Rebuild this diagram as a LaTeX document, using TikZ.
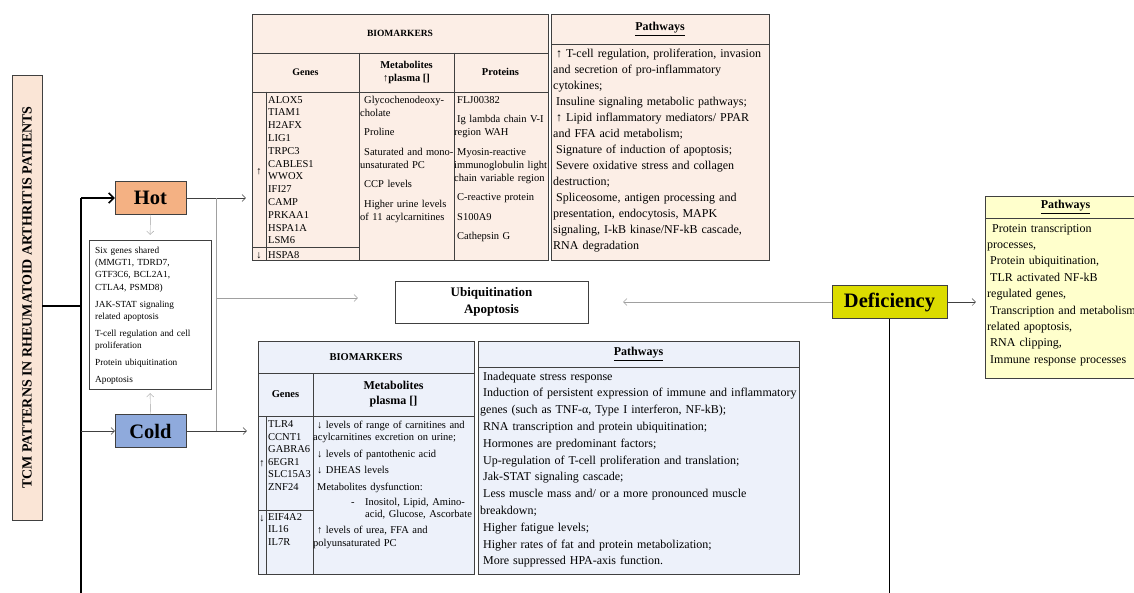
\documentclass[tikz,border=0pt]{standalone}
\usepackage{fontspec}
\setmainfont{Liberation Serif}
\usepackage{graphicx}
\usepackage{tikz}
\usetikzlibrary{calc,positioning,arrows.meta}

\definecolor{tcmfill}{HTML}{FAE5D6}
\definecolor{hotfill}{HTML}{F4B183}
\definecolor{coldfill}{HTML}{8FAADC}
\definecolor{defifill}{HTML}{DCDC00}
\definecolor{hottable}{HTML}{FCEEE6}
\definecolor{coldtable}{HTML}{EDF1FA}
\definecolor{defitable}{HTML}{FFFFCC}
\definecolor{edgegray}{HTML}{404040}
\definecolor{softgray}{HTML}{A0A0A0}

\tikzstyle{tcmbox}    = [rectangle, draw=edgegray, fill=tcmfill, minimum width=30pt, minimum height=445pt, inner sep=0pt, font=\fontsize{14}{16}\selectfont\bfseries]
\tikzstyle{syndrome}  = [rectangle, draw=edgegray, minimum width=71pt, minimum height=33pt, inner sep=0pt, font=\fontsize{20.5}{24}\selectfont\bfseries]
\tikzstyle{tblframe}  = [rectangle, draw=edgegray, inner sep=0pt]
\tikzstyle{tblhead}   = [inner sep=0pt, align=center, font=\fontsize{10}{13}\selectfont\bfseries]
\tikzstyle{cell}      = [anchor=base west, inner sep=0pt, text width=330pt, align=left]
\tikzstyle{bio}       = [cell, font=\fontsize{10.5}{13}\selectfont]
\tikzstyle{updown}    = [anchor=base, inner sep=0pt, font=\fontsize{10.5}{13}\selectfont]
\tikzstyle{pathtext}  = [cell, font=\fontsize{12}{16}\selectfont]
\tikzstyle{arrow}     = [->, >={Straight Barb[length=3.5pt,width=7pt]}, draw=edgegray]
\tikzstyle{softarrow} = [arrow, draw=softgray]

\begin{document}
\begin{tikzpicture}[x=1pt, y=-1pt]
\useasboundingbox (0,0) rectangle (1134,592);
\clip (0,0) rectangle (1134,592);

% patterns
\node[tcmbox] (tcm) at (27,297.5) {\rotatebox{90}{TCM PATTERNS IN RHEUMATOID ARTHRITIS PATIENTS}};
\node[syndrome, fill=hotfill] (hot) at (150.5,198) {Hot};
\node[syndrome, fill=coldfill] (cold) at (150.5,431) {Cold};
\node[syndrome, fill=defifill, minimum width=115pt] (defic) at (889.5,302) {Deficiency};

% shared by hot and cold
\node[tblframe, fill=white, minimum width=122pt, minimum height=149pt] (shared) at (150,314.5) {};
\node[cell, font=\fontsize{9.3}{12.2}\selectfont] (sharedtext) at (95,253.5) {Six genes shared\\(MMGT1, TDRD7,\\GTF3C6, BCL2A1,\\CTLA4, PSMD8)\\[4.8pt]JAK-STAT signaling\\related apoptosis\\[4.8pt]T-cell regulation and cell\\proliferation\\[4.8pt]Protein ubiquitination\\[4.8pt]Apoptosis};

\node[tblframe, minimum width=193pt, minimum height=42pt, align=center, font=\fontsize{13}{17.4}\selectfont\bfseries] (ubiq) at (491.5,302) {Ubiquitination\\Apoptosis};

% hot tables
\node[tblframe, fill=hottable, minimum width=296pt, minimum height=246pt] (hotbio) at (400,137) {};
\node[tblframe, fill=hottable, minimum width=218pt, minimum height=246pt] (hotpath) at (660,137) {};
\draw[edgegray] (252,52.7) -- (548,52.7) (252,91.7) -- (548,91.7)
  (359.3,52.7) -- (359.3,260) (454,52.7) -- (454,260)
  (265.7,91.7) -- (265.7,260) (252,247) -- (359.3,247)
  (551,44.3) -- (769,44.3);
\node[tblhead, font=\fontsize{9.5}{12}\selectfont\bfseries] (hotbiohead) at (400,33.4) {BIOMARKERS};
\node[tblhead] (hotgenes) at (305.5,72) {Genes};
\node[tblhead, font=\fontsize{10.5}{13}\selectfont\bfseries] (hotmeta) at (406.5,72) {Metabolites\\↑plasma []};
\node[tblhead, font=\fontsize{10.5}{13}\selectfont\bfseries] (hotprot) at (500.5,72) {Proteins};
\node[tblhead, font=\fontsize{12}{14}\selectfont\bfseries] (hotpathhead) at (660,29) {\underline{Pathways}};

\node[bio, font=\fontsize{10.5}{12.8}\selectfont] (hotup) at (268,103) {ALOX5\\TIAM1\\H2AFX\\LIG1\\TRPC3\\CABLES1\\WWOX\\IFI27\\CAMP\\PRKAA1\\HSPA1A\\LSM6};
\node[bio] (hotdown) at (268,258.5) {HSPA8};
\node[updown] (hotuparrow) at (259,174) {↑};
\node[updown] (hotdownarrow) at (259,258.5) {↓};
\node[bio] (hotmetatext) at (360,103) {\hspace*{4pt}Glycochenodeoxy-\\cholate\\[6.5pt]\hspace*{4pt}Proline\\[6.5pt]\hspace*{4pt}Saturated and mono-\\unsaturated PC\\[6.5pt]\hspace*{4pt}CCP levels\\[6.5pt]\hspace*{4pt}Higher urine levels\\of 11 acylcarnitines};
\node[bio] (hotprottext) at (454,103) {\hspace*{3pt}FLJ00382\\[6.5pt]\hspace*{3pt}Ig lambda chain V-I\\region WAH\\[6.5pt]\hspace*{3pt}Myosin-reactive\\immunoglobulin light\\chain variable region\\[6.5pt]\hspace*{3pt}C-reactive protein\\[6.5pt]\hspace*{3pt}S100A9\\[6.5pt]\hspace*{3pt}Cathepsin G};
\node[pathtext] (hotpathtext) at (553,57) {\hspace*{3pt}↑ T-cell regulation, proliferation, invasion\\and secretion of pro-inflammatory\\cytokines;\\\hspace*{3pt}Insuline signaling metabolic pathways;\\\hspace*{3pt}↑ Lipid inflammatory mediators/ PPAR\\and FFA acid metabolism;\\\hspace*{3pt}Signature of induction of apoptosis;\\\hspace*{3pt}Severe oxidative stress and collagen\\destruction;\\\hspace*{3pt}Spliceosome, antigen processing and\\presentation, endocytosis, MAPK\\signaling, I-kB kinase/NF-kB cascade,\\RNA degradation};

% cold tables
\node[tblframe, fill=coldtable, minimum width=216pt, minimum height=233pt] (coldbio) at (366,457.5) {};
\node[tblframe, fill=coldtable, minimum width=321pt, minimum height=233pt] (coldpath) at (638.5,457.5) {};
\draw[edgegray] (258,373) -- (474,373) (258,416) -- (474,416)
  (313,373) -- (313,574) (266,416) -- (266,574) (258,509.7) -- (313,509.7)
  (478,367) -- (799,367);
\node[tblhead, font=\fontsize{10.5}{13}\selectfont\bfseries] (coldbiohead) at (366,357) {BIOMARKERS};
\node[tblhead, font=\fontsize{10.5}{13}\selectfont\bfseries] (coldgenes) at (285.5,394.5) {Genes};
\node[tblhead, font=\fontsize{12}{15}\selectfont\bfseries] (coldmeta) at (393.5,394.5) {Metabolites\\plasma []};
\node[tblhead, font=\fontsize{12}{14}\selectfont\bfseries] (coldpathhead) at (638.5,354) {\underline{Pathways}};

\node[bio, font=\fontsize{10.5}{12.6}\selectfont] (coldup) at (268,427.5) {TLR4\\CCNT1\\GABRA6\\6EGR1\\SLC15A3\\ZNF24};
\node[bio, font=\fontsize{10.5}{12.3}\selectfont] (colddown) at (268,520.5) {EIF4A2\\IL16\\IL7R};
\node[updown] (colduparrow) at (262,466) {↑};
\node[updown] (colddownarrow) at (262,521) {↓};
\node[bio, font=\fontsize{10.5}{12.3}\selectfont] (coldmetatext) at (313,428.2) {\hspace*{4pt}↓ levels of range of carnitines and\\acylcarnitines excretion on urine;\\[4.2pt]\hspace*{4pt}↓ levels of pantothenic acid\\[4.2pt]\hspace*{4pt}↓ DHEAS levels\\[4.2pt]\hspace*{4pt}Metabolites dysfunction:\\[2.7pt]\hspace*{38pt}-\hspace*{10.5pt}Inositol, Lipid, Amino-\\\hspace*{52pt}acid, Glucose, Ascorbate\\[4.2pt]\hspace*{4pt}↑ levels of urea, FFA and\\polyunsaturated PC};
\node[pathtext, font=\fontsize{12}{16.8}\selectfont] (coldpathtext) at (480,380) {\hspace*{3pt}Inadequate stress response\\\hspace*{3pt}Induction of persistent expression of immune and inflammatory\\genes (such as TNF-α, Type I interferon, NF-kB);\\\hspace*{3pt}RNA transcription and protein ubiquitination;\\\hspace*{3pt}Hormones are predominant factors;\\\hspace*{3pt}Up-regulation of T-cell proliferation and translation;\\\hspace*{3pt}Jak-STAT signaling cascade;\\\hspace*{3pt}Less muscle mass and/ or a more pronounced muscle\\breakdown;\\\hspace*{3pt}Higher fatigue levels;\\\hspace*{3pt}Higher rates of fat and protein metabolization;\\\hspace*{3pt}More suppressed HPA-axis function.};

% deficiency table
\node[tblframe, fill=defitable, minimum width=170pt, minimum height=182pt] (defipath) at (1070,287) {};
\draw[edgegray] (985,218.3) -- (1155,218.3);
\node[tblhead, font=\fontsize{12}{14}\selectfont\bfseries] (defipathhead) at (1065.5,207) {\underline{Pathways}};
\node[pathtext, font=\fontsize{12}{16.4}\selectfont] (defipathtext) at (987,232) {\hspace*{5pt}Protein transcription\\processes,\\\hspace*{3pt}Protein ubiquitination,\\\hspace*{3pt}TLR activated NF-kB\\regulated genes,\\\hspace*{3pt}Transcription and metabolism\\related apoptosis,\\\hspace*{3pt}RNA clipping,\\\hspace*{3pt}Immune response processes};

% connectors
\coordinate (split) at (81,306);
\coordinate (trunktop) at (81,198);
\coordinate (trunkend) at (81,600);
\coordinate (hub) at (216,298);
\coordinate (deficend) at (889.5,600);
\draw[line width=1.5pt] (tcm.east |- split) -- (split);
\draw[line width=1.8pt] (trunktop) -- (trunkend);
\draw[arrow, draw=black, line width=1.6pt, >={Straight Barb[length=5pt,width=10pt]}] (trunktop) -- (hot.west);
\draw[arrow] (trunktop |- cold.west) -- (cold.west);
\draw[arrow, shorten >=6pt] (hot.east) -- (hot.east -| hotbio.west);
\draw[arrow, shorten >=11pt] (cold.east) -- (cold.east -| coldbio.west);
\draw[softgray] (hub |- hot.east) -- (hub |- cold.east);
\draw[softarrow, shorten >=37pt] (hub) -- (hub -| ubiq.west);
\draw[softarrow, shorten >=5pt] (hot.south) -- (shared.north);
\draw[softarrow, shorten >=4pt] (cold.north) -- (shared.south);
\draw[softarrow, shorten >=35pt] (defic.west) -- (defic.west -| ubiq.east);
\draw[arrow, shorten >=9pt] (defic.east) -- (defic.east -| defipath.west);
\draw[line width=1.5pt] (defic.south) -- (deficend);
\end{tikzpicture}
\end{document}
